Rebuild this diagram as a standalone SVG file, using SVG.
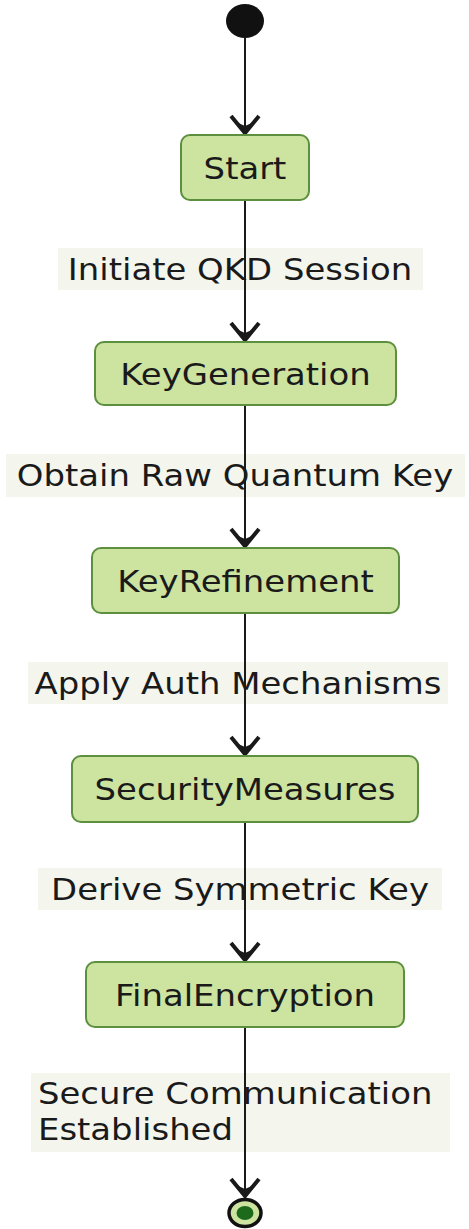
<svg xmlns="http://www.w3.org/2000/svg" width="469" height="1229" viewBox="0 0 469 1229">
  <style>
    .state rect { fill: #cde3a0; stroke: #5c8f3e; stroke-width: 2; }
    .state text, .lbl text { font-family: "DejaVu Sans", Verdana, sans-serif; font-size: 30px; fill: #1a1a1a; }
    .state text, .lbl text.c { text-anchor: middle; }
    .lbl rect { fill: #f4f6ee; }
    .edge { stroke: #1a1a1a; stroke-width: 2; fill: none; marker-end: url(#barb); }
  </style>
  <defs>
    <marker id="barb" viewBox="-2 -2 24 34" refX="20" refY="15" markerWidth="24" markerHeight="34" markerUnits="userSpaceOnUse" orient="auto">
      <path d="M1,1 L18,15 L1,29" fill="none" stroke="#1a1a1a" stroke-width="4"/>
      <path d="M7,6 L20,15 L7,24 L11,15 Z" fill="#1a1a1a"/>
    </marker>
  </defs>

  <rect width="469" height="1229" fill="#ffffff"/>

  <!-- transition labels -->
  <g id="edge-labels">
    <g class="lbl" id="lbl-initiate">
      <rect x="58" y="248" width="365" height="42"/>
      <text class="c" transform="translate(240,280) scale(1.13,1)">Initiate QKD Session</text>
    </g>
    <g class="lbl" id="lbl-obtain">
      <rect x="6" y="454" width="459" height="43"/>
      <text class="c" transform="translate(235,486) scale(1.13,1)">Obtain Raw Quantum Key</text>
    </g>
    <g class="lbl" id="lbl-apply">
      <rect x="28" y="662" width="420" height="42"/>
      <text class="c" transform="translate(238,694) scale(1.13,1)">Apply Auth Mechanisms</text>
    </g>
    <g class="lbl" id="lbl-derive">
      <rect x="38" y="868" width="404" height="42"/>
      <text class="c" transform="translate(240,900) scale(1.13,1)">Derive Symmetric Key</text>
    </g>
    <g class="lbl" id="lbl-secure">
      <rect x="31" y="1073" width="419" height="79"/>
      <text transform="translate(38,1104) scale(1.13,1)">Secure Communication</text>
      <text transform="translate(38,1140) scale(1.13,1)">Established</text>
    </g>
  </g>

  <!-- transitions -->
  <g id="connectors">
    <line class="edge" x1="245" y1="38" x2="245" y2="135"/>
    <line class="edge" x1="245" y1="200" x2="245" y2="342"/>
    <line class="edge" x1="245" y1="405" x2="245" y2="548"/>
    <line class="edge" x1="245" y1="613" x2="245" y2="756"/>
    <line class="edge" x1="245" y1="822" x2="245" y2="962"/>
    <line class="edge" x1="245" y1="1027" x2="245" y2="1198"/>
  </g>

  <!-- initial pseudo-state -->
  <g id="initial">
    <ellipse cx="245" cy="21" rx="19" ry="17" fill="#111111"/>
  </g>

  <g class="state" id="Start">
    <rect x="181" y="135" width="128" height="65" rx="9"/>
    <text transform="translate(245,179) scale(1.13,1)">Start</text>
  </g>
  <g class="state" id="KeyGeneration">
    <rect x="95" y="342" width="301" height="63" rx="9"/>
    <text transform="translate(245.5,385) scale(1.13,1)">KeyGeneration</text>
  </g>
  <g class="state" id="KeyRefinement">
    <rect x="92" y="548" width="307" height="65" rx="9"/>
    <text transform="translate(245.5,592) scale(1.13,1)">KeyRefinement</text>
  </g>
  <g class="state" id="SecurityMeasures">
    <rect x="72" y="756" width="346" height="66" rx="9"/>
    <text transform="translate(245,800) scale(1.13,1)">SecurityMeasures</text>
  </g>
  <g class="state" id="FinalEncryption">
    <rect x="86" y="962" width="318" height="65" rx="9"/>
    <text transform="translate(245,1006) scale(1.13,1)">FinalEncryption</text>
  </g>

  <!-- final pseudo-state -->
  <g id="final">
    <ellipse cx="245" cy="1213" rx="16" ry="13.5" fill="#cde3a0" stroke="#111111" stroke-width="3.5"/>
    <ellipse cx="245" cy="1213" rx="8.5" ry="7" fill="#1d6a1d"/>
  </g>
</svg>
